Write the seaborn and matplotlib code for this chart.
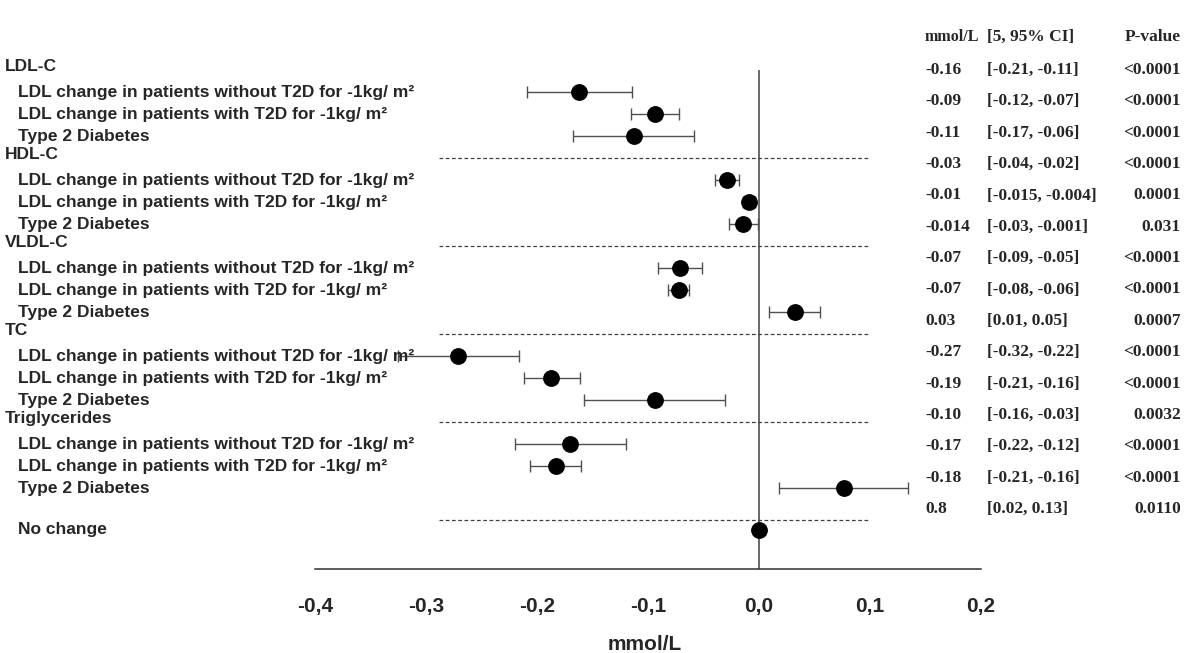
import matplotlib
matplotlib.use("Agg")
from matplotlib import pyplot as plt
from matplotlib.transforms import blended_transform_factory
import numpy as np
import pandas as pd
import seaborn as sns

# groups and rows of the forest plot
groups = ["LDL-C", "HDL-C", "VLDL-C", "TC", "Triglycerides"]
items = ["LDL change in patients without T2D for -1kg/ m²",
         "LDL change in patients with T2D for -1kg/ m²",
         "Type 2 Diabetes"]

# estimates (mmol/L), 3 per group
est = [-0.162, -0.094, -0.113,
       -0.029, -0.009, -0.014,
       -0.071, -0.072, 0.032,
       -0.271, -0.187, -0.094,
       -0.170, -0.183, 0.077]
lo = [-0.209, -0.115, -0.168,
      -0.040, -0.014, -0.027,
      -0.091, -0.082, 0.009,
      -0.325, -0.212, -0.158,
      -0.220, -0.206, 0.018]
hi = [-0.114, -0.072, -0.059,
      -0.018, -0.004, -0.001,
      -0.051, -0.063, 0.055,
      -0.216, -0.161, -0.031,
      -0.120, -0.160, 0.134]
no_change = 0.0

# table on the right
tab_head = ["mmol/L", "[5, 95% CI]", "P-value"]
tab_mean = ["-0.16", "-0.09", "-0.11", "-0.03", "-0.01", "-0.014", "-0.07", "-0.07",
            "0.03", "-0.27", "-0.19", "-0.10", "-0.17", "-0.18", "0.8"]
tab_ci = ["[-0.21, -0.11]", "[-0.12, -0.07]", "[-0.17, -0.06]", "[-0.04, -0.02]",
          "[-0.015, -0.004]", "[-0.03, -0.001]", "[-0.09, -0.05]", "[-0.08, -0.06]",
          "[0.01, 0.05]", "[-0.32, -0.22]", "[-0.21, -0.16]", "[-0.16, -0.03]",
          "[-0.22, -0.12]", "[-0.21, -0.16]", "[0.02, 0.13]"]
tab_p = ["<0.0001", "<0.0001", "<0.0001", "<0.0001", "0.0001", "0.031", "<0.0001",
         "<0.0001", "0.0007", "<0.0001", "<0.0001", "0.0032", "<0.0001", "<0.0001",
         "0.0110"]

xticks = [-0.4, -0.3, -0.2, -0.1, 0.0, 0.1, 0.2]

sns.set_style("white")
plt.rcParams['font.family'] = ['Liberation Sans', 'DejaVu Sans']

# row index: header at 4*g, items after it
rows = []
for g in range(len(groups)):
    for k in range(len(items)):
        rows.append(4 * g + 1 + k)
df = pd.DataFrame({'est': est, 'lo': lo, 'hi': hi, 'row': rows})
nc_row = 20.9

W, H = 1200, 653
fig = plt.figure(figsize=(12, 6.53), dpi=100)
ax = fig.add_axes([315 / W, (H - 569) / H, (981 - 315) / W, 569 / H])
ax.set_xlim(-0.4, 0.2)
ax.set_ylim((569 - 70) / 22, -70 / 22)

# zero line and dashed separators
ax.vlines(0, 0, (569 - 70) / 22, color='#404040', lw=1.1, zorder=1)
for r in [4, 8, 12, 16, 20.45]:
    ax.hlines(r, -0.288, 0.098, color='#404040', lw=0.9, linestyles=(0, (3, 2)), zorder=1)

ax.errorbar(df['est'], df['row'], xerr=[df['est'] - df['lo'], df['hi'] - df['est']],
            fmt='none', ecolor='#505050', elinewidth=1, capsize=4.3, capthick=1, zorder=2)
pts = pd.concat([df[['est', 'row']],
                 pd.DataFrame({'est': [no_change], 'row': [nc_row]})], ignore_index=True)
sns.scatterplot(data=pts, x='est', y='row', color='black', edgecolor='black',
                s=125, ax=ax, zorder=3, legend=False)

# labels on the left
lab_fs = 12.5
tr = blended_transform_factory(fig.transFigure, ax.transData)
for g, name in enumerate(groups):
    ax.text(5 / W, 4 * g - 0.15, name, transform=tr, fontsize=lab_fs, fontweight='bold',
            va='center', ha='left', zorder=5)
    for k, lab in enumerate(items):
        ax.text(18 / W, 4 * g + 1 + k, lab, transform=tr, fontsize=lab_fs, fontweight='bold',
                va='center', ha='left', zorder=5)
ax.text(18 / W, nc_row, "No change", transform=tr, fontsize=lab_fs, fontweight='bold',
        va='center', ha='left', zorder=5)

# table on the right
serif = ['Liberation Serif', 'DejaVu Serif']
tab_fs = 12.5
fig.text(925 / W, 1 - 37 / H, tab_head[0], family=serif, fontsize=11.5, fontweight='bold', va='center')
fig.text(987 / W, 1 - 37 / H, tab_head[1], family=serif, fontsize=tab_fs, fontweight='bold', va='center')
fig.text(1181 / W, 1 - 37 / H, tab_head[2], family=serif, fontsize=tab_fs, fontweight='bold',
         va='center', ha='right')
for k in range(len(tab_mean)):
    yy = 1 - (70 + 31.35 * k) / H
    fig.text(925 / W, yy, tab_mean[k], family=serif, fontsize=tab_fs, fontweight='bold', va='center')
    fig.text(987 / W, yy, tab_ci[k], family=serif, fontsize=tab_fs, fontweight='bold', va='center')
    fig.text(1181 / W, yy, tab_p[k], family=serif, fontsize=tab_fs, fontweight='bold',
             va='center', ha='right')

# axis styling
for s in ['top', 'right', 'left']:
    ax.spines[s].set_visible(False)
ax.spines['bottom'].set_color('#303030')
ax.spines['bottom'].set_linewidth(1.1)
ax.set_yticks([])
ax.set_ylabel('')
ax.set_xticks(xticks)
ax.set_xticklabels([f"{t:.1f}".replace('.', ',') for t in xticks],
                   fontsize=15, fontweight='bold')
ax.tick_params(axis='x', direction='out', length=5, width=1, color='#303030', pad=15)
ax.set_xlabel("mmol/L", fontsize=15, fontweight='bold')
ax.xaxis.set_label_coords(0.495, (H - 644 - (H - 569)) / 569)
ax.xaxis.label.set_va('center')

fig.savefig("out.png", dpi=100)
